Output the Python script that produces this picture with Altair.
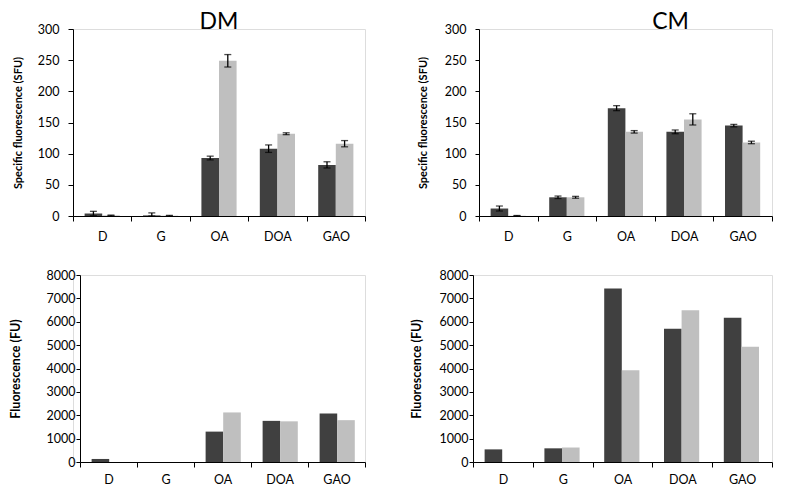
import altair as alt
import pandas as pd

CATS = ["D", "G", "OA", "DOA", "GAO"]

# DM specific fluorescence (SFU)
dm_sfu_dark = [4, 1, 93, 108, 82]
dm_sfu_dark_err = [3.5, 4, 3, 6, 5]
dm_sfu_light = [1, 0.5, 249, 132, 116]
dm_sfu_light_err = [0.5, 0.5, 10, 1.5, 5]

# CM specific fluorescence (SFU)
cm_sfu_dark = [12, 30, 173, 135, 145]
cm_sfu_dark_err = [4, 2, 4, 3, 2]
cm_sfu_light = [0.5, 30, 135, 155, 118]
cm_sfu_light_err = [0.3, 1.5, 2, 9, 2]

# DM fluorescence (FU)
dm_fu_dark = [130, 0, 1300, 1760, 2070]
dm_fu_light = [0, 0, 2120, 1740, 1790]

# CM fluorescence (FU)
cm_fu_dark = [540, 585, 7420, 5700, 6170]
cm_fu_light = [0, 620, 3920, 6490, 4930]

FONT = "Lato"
DARK = "#404040"
LIGHT = "#bfbfbf"


def panel(v1, v2, e1, e2, ymax, ystep, ytitle, ytitle_size, width, height,
          title_pad, label_pad, tick_size, xlabel_pad, title=None, title_dx=0,
          inset=0):
    rows = []
    for i, c in enumerate(CATS):
        rows.append({"cat": c, "series": "a", "value": v1[i],
                     "lo": v1[i] - (e1[i] if e1 else 0),
                     "hi": v1[i] + (e1[i] if e1 else 0)})
        rows.append({"cat": c, "series": "b", "value": v2[i],
                     "lo": v2[i] - (e2[i] if e2 else 0),
                     "hi": v2[i] + (e2[i] if e2 else 0)})
    df = pd.DataFrame(rows)
    df["lo"] = df["lo"].clip(lower=0)

    if inset:
        xscale = alt.Scale(paddingInner=0, paddingOuter=0,
                           range=[inset, width])
    else:
        xscale = alt.Scale(paddingInner=0, paddingOuter=0)
    xenc = alt.X("cat:N", sort=CATS, scale=xscale,
                 axis=alt.Axis(title=None, labelAngle=0, tickBand="extent",
                               domainColor="#000", tickColor="#000",
                               tickSize=5, labelFont=FONT, labelFontSize=12.5,
                               labelColor="#000", labelPadding=xlabel_pad))
    xo = alt.XOffset("series:N", sort=["a", "b"],
                     scale=alt.Scale(paddingOuter=0.66, paddingInner=0))
    yaxis = alt.Axis(title=ytitle, values=list(range(0, ymax + 1, ystep)),
                     format="d", offset=-inset,
                     grid=False, domainColor="#000", tickColor="#000",
                     tickSize=tick_size, labelFont=FONT, labelFontSize=12.5,
                     labelColor="#000", labelPadding=label_pad,
                     titleFont=FONT, titleFontSize=ytitle_size,
                     titleFontWeight="bold", titleColor="#000",
                     titlePadding=title_pad)
    yscale = alt.Scale(domain=[0, ymax], nice=False)

    base = alt.Chart(df)
    bars = base.mark_bar().encode(
        x=xenc, xOffset=xo,
        y=alt.Y("value:Q", scale=yscale, axis=yaxis),
        color=alt.Color("series:N", scale=alt.Scale(domain=["a", "b"],
                        range=[DARK, LIGHT]), legend=None),
    )
    layers = [bars]
    if e1:
        rule = base.mark_rule(color="#000", strokeWidth=1.3).encode(
            x=xenc, xOffset=xo,
            y=alt.Y("lo:Q", scale=yscale, axis=yaxis), y2="hi:Q")
        tlo = base.mark_tick(color="#000", size=7, thickness=1.3).encode(
            x=xenc, xOffset=xo, y=alt.Y("lo:Q", scale=yscale, axis=yaxis))
        thi = base.mark_tick(color="#000", size=7, thickness=1.3).encode(
            x=xenc, xOffset=xo, y=alt.Y("hi:Q", scale=yscale, axis=yaxis))
        layers += [rule, tlo, thi]
    props = dict(width=width, height=height)
    if title:
        props["title"] = alt.TitleParams(text=title, font=FONT, fontSize=23,
                                         fontWeight="normal", color="#000",
                                         offset=-11, dx=title_dx)
    return alt.layer(*layers).properties(**props)


tl = panel(dm_sfu_dark, dm_sfu_light, dm_sfu_dark_err, dm_sfu_light_err,
           300, 50, "Specific  fluorescence (SFU)", 11, 292, 187,
           14, 9, 5, 9, title="DM")
tr = panel(cm_sfu_dark, cm_sfu_light, cm_sfu_dark_err, cm_sfu_light_err,
           300, 50, "Specific fluorescence (SFU)", 11, 293, 187,
           16, 9, 4, 9, title="CM", title_dx=45)
bl = panel(dm_fu_dark, dm_fu_light, None, None,
           8000, 1000, "Fluorescence (FU)", 12.5, 292, 187,
           24, 1, 4, 6, inset=7)
br = panel(cm_fu_dark, cm_fu_light, None, None,
           8000, 1000, "Fluorescence (FU)", 12.5, 299, 187,
           16, 1, 4, 6)

top = alt.hconcat(tl, tr, spacing=114, bounds="flush")
bottom = alt.hconcat(bl, br, spacing=108, bounds="flush")
chart = alt.vconcat(top, bottom, spacing=25).properties(
    padding={"left": 0, "top": 2, "right": 0, "bottom": 0}
).configure_view(stroke=None).configure(background="white")

chart.save("out.html", embed_options={"renderer": "svg", "actions": False})
